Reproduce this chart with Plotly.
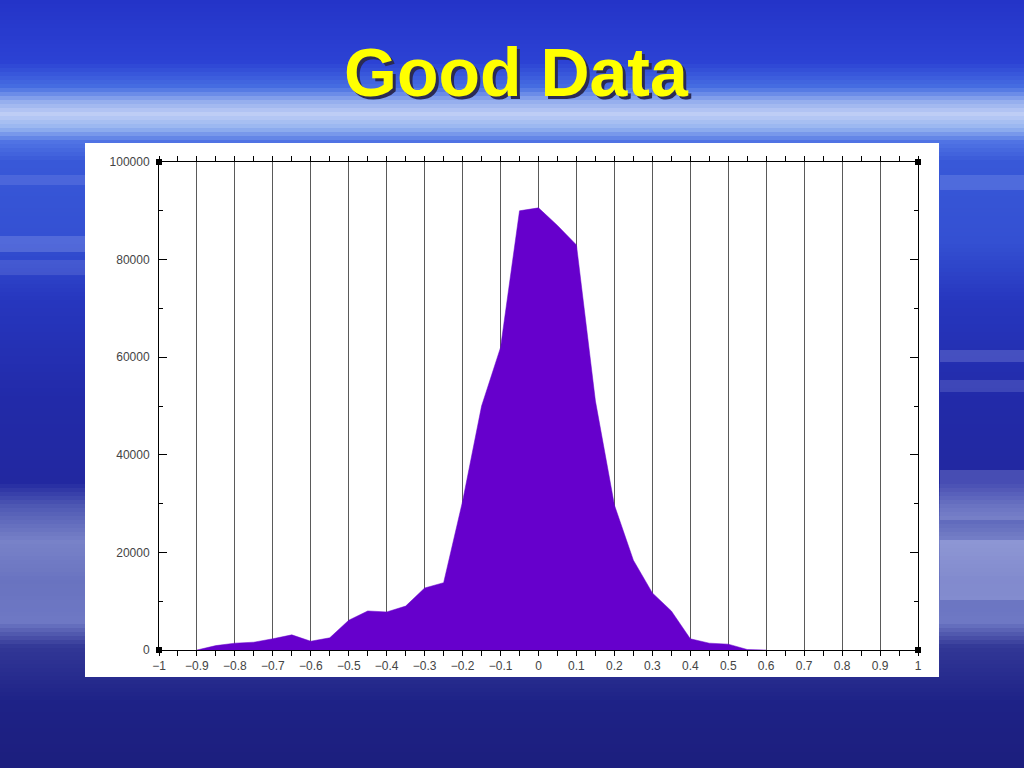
import plotly.graph_objects as go

# ---- data ----
x_vals = [-0.9, -0.85, -0.8, -0.75, -0.7, -0.65, -0.6, -0.55, -0.5, -0.45,
          -0.4, -0.35, -0.3, -0.25, -0.2, -0.15, -0.1, -0.05, 0.0, 0.05,
          0.1, 0.15, 0.2, 0.25, 0.3, 0.35, 0.4, 0.45, 0.5, 0.55, 0.6]
counts = [0, 900, 1400, 1600, 2300, 3100, 1800, 2500, 6100, 8000,
          7800, 9000, 12700, 13800, 30500, 50000, 62000, 90000, 90600, 87000,
          83000, 51000, 29700, 18400, 11700, 8000, 2300, 1400, 1200, 100, 0]
corner_x = [-1, -1, 1, 1]
corner_y = [0, 100000, 0, 100000]
title_text = "Good Data"

W, H = 1024, 768
L, R, T, B = 159, 918, 162, 650  # plot area in pixels


def px(xp):
    return (xp - L) / (R - L)


def py(yp):
    return (B - yp) / (B - T)


fig = go.Figure()

fig.add_trace(go.Scatter(
    x=x_vals, y=counts, mode="lines", fill="tozeroy",
    line=dict(color="#6600CC", width=0.5), fillcolor="#6600CC",
    hoverinfo="skip", showlegend=False))

fig.add_trace(go.Scatter(
    x=corner_x, y=corner_y, mode="markers",
    marker=dict(symbol="square", size=6, color="black"),
    cliponaxis=False, showlegend=False, hoverinfo="skip"))

shapes = []
# background vertical gradient (slide backdrop)
stops = [(0, (36, 52, 200)), (60, (44, 66, 212)), (85, (70, 110, 226)),
         (100, (150, 175, 238)), (112, (190, 205, 245)), (126, (150, 180, 240)),
         (140, (80, 115, 228)), (160, (56, 88, 216)), (240, (52, 80, 210)),
         (300, (38, 54, 190)), (400, (34, 42, 168)), (480, (34, 40, 160)),
         (505, (80, 90, 180)), (540, (120, 130, 200)), (580, (105, 115, 192)),
         (620, (110, 120, 196)), (645, (50, 55, 150)), (700, (30, 34, 135)),
         (768, (28, 30, 125))]


def lerp(c1, c2, t):
    return tuple(int(round(a + (b - a) * t)) for a, b in zip(c1, c2))


step = 4
yp = 0
while yp < H:
    for i in range(len(stops) - 1):
        if stops[i][0] <= yp <= stops[i + 1][0]:
            y0, c0 = stops[i]
            y1, c1 = stops[i + 1]
            break
    t = (yp - y0) / (y1 - y0) if y1 > y0 else 0
    c = lerp(c0, c1, t)
    shapes.append(dict(type="rect", xref="paper", yref="paper",
                       x0=px(0), x1=px(W), y0=py(yp + step + 0.5), y1=py(yp),
                       fillcolor="rgb(%d,%d,%d)" % c, line=dict(width=0),
                       layer="below"))
    yp += step

# soft streaks on the sides
streaks = [(0, 85, 236, 252, 0.18), (0, 85, 175, 185, 0.12), (940, 1024, 175, 190, 0.15),
           (940, 1024, 350, 362, 0.18), (940, 1024, 380, 392, 0.15),
           (940, 1024, 470, 520, 0.2), (940, 1024, 540, 600, 0.22),
           (0, 85, 260, 275, 0.12)]
for x0, x1, y0, y1, a in streaks:
    shapes.append(dict(type="rect", xref="paper", yref="paper",
                       x0=px(x0), x1=px(x1), y0=py(y1), y1=py(y0),
                       fillcolor="rgba(220,225,255,%.2f)" % a, line=dict(width=0),
                       layer="below"))

# white panel
shapes.append(dict(type="rect", xref="paper", yref="paper",
                   x0=px(85), x1=px(939), y0=py(677), y1=py(143),
                   fillcolor="white", line=dict(width=0), layer="below"))

annotations = [
    dict(text="<b>%s</b>" % title_text, xref="paper", yref="paper",
         x=px(516.5), y=py(72), xanchor="center", yanchor="middle",
         showarrow=False,
         font=dict(family="Liberation Sans, Arial", size=68, color="#FFFF00",
                   shadow="3px 3px 0px #2a2a55")),
]

tick_font = dict(family="Liberation Sans, Arial", size=12, color="#444444")

fig.update_layout(
    width=W, height=H,
    margin=dict(l=L, r=W - R, t=T, b=H - B, pad=0),
    paper_bgcolor="#2030b8", plot_bgcolor="white",
    shapes=shapes, annotations=annotations, showlegend=False,
    xaxis=dict(range=[-1, 1], tick0=0, dtick=0.1, showgrid=True,
               gridcolor="#5a5a5a", gridwidth=1, zeroline=False,
               showline=True, linecolor="black", linewidth=1,
               mirror="ticks", ticks="outside", ticklen=5, tickcolor="black",
               tickfont=tick_font,
               minor=dict(dtick=0.05, tick0=0, ticks="outside", ticklen=5,
                          tickcolor="black", showgrid=False)),
    yaxis=dict(range=[0, 100000], tick0=0, dtick=20000, showgrid=False,
               tickformat="d", exponentformat="none",
               zeroline=False, showline=True, linecolor="black", linewidth=1,
               mirror="ticks", ticks="inside", ticklen=8, tickcolor="black",
               tickfont=tick_font, ticklabelstandoff=6,
               minor=dict(dtick=10000, tick0=0, ticks="inside", ticklen=4,
                          tickcolor="black", showgrid=False)),
)

fig.write_html("out.html",
               config={"displayModeBar": False},
               post_script="document.body.style.margin='0';"
                           "document.body.style.background='#1c2080';")
